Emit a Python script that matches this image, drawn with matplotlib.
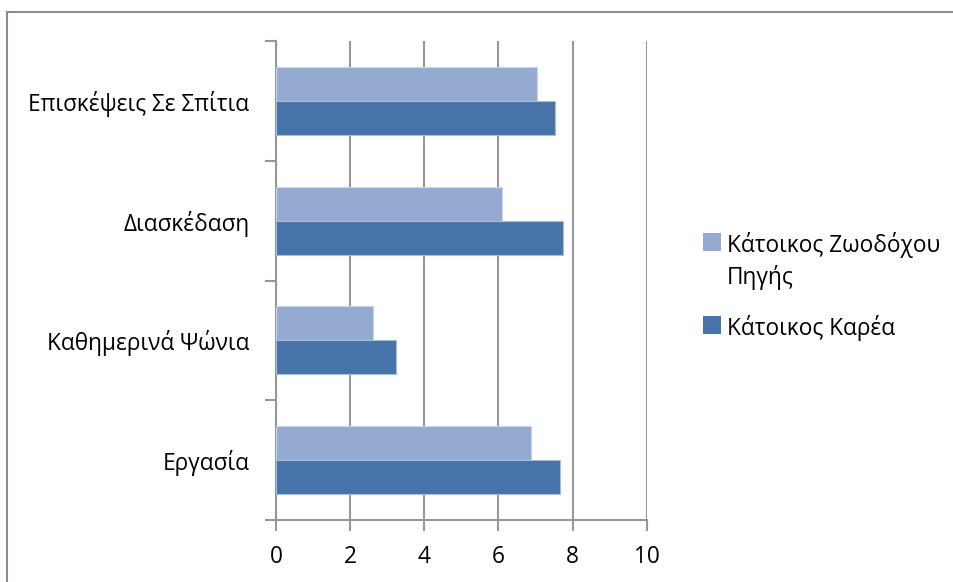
import matplotlib
matplotlib.use("Agg")
import matplotlib.pyplot as plt
from matplotlib.patches import Rectangle
import numpy as np

plt.rcParams['font.family'] = ['Open Sans', 'DejaVu Sans']

categories = ["Εργασία", "Καθημερινά Ψώνια", "Διασκέδαση", "Επισκέψεις Σε Σπίτια"]
series_names = ["Κάτοικος Ζωοδόχου\nΠηγής", "Κάτοικος Καρέα"]
zoodochou = [6.88, 2.63, 6.11, 7.03]
karea = [7.65, 3.25, 7.74, 7.53]
x_ticks = [0, 2, 4, 6, 8, 10]

light = "#95AAD1"
dark = "#4673A8"
grid_col = "#979797"
fs = 16.3

W, H = 954, 582
fig = plt.figure(figsize=(W / 100, H / 100), dpi=100)
ax = fig.add_axes([276 / W, 1 - 520 / H, (646.7 - 276) / W, (520 - 41) / H])

y = np.arange(len(categories))
bh = 0.284
bars_z = ax.barh(y + bh / 2, zoodochou, height=bh, color=light, edgecolor="#c9d4ea",
                 linewidth=0.8, label=series_names[0], zorder=3)
bars_k = ax.barh(y - bh / 2, karea, height=bh, color=dark, edgecolor="#a9bcdb",
                 linewidth=0.8, label=series_names[1], zorder=3)

ax.set_xlim(0, 10)
ax.set_ylim(-0.5, len(categories) - 0.5)
ax.set_xticks(x_ticks)
ax.set_xticklabels([str(t) for t in x_ticks], fontsize=fs)
ax.xaxis.grid(True, color=grid_col, linewidth=1.5, zorder=0)
ax.set_axisbelow(True)

# category labels at centres, tick marks on boundaries
ax.set_yticks(y)
ax.set_yticklabels(categories, fontsize=fs)
ax.tick_params(axis="y", which="major", length=0, pad=19)
ax.set_yticks(np.arange(-0.5, len(categories), 1.0), minor=True)
ax.tick_params(axis="y", which="minor", length=8, width=1.5, color=grid_col)
ax.tick_params(axis="x", length=8, width=1.5, color=grid_col, pad=10)

for s in ["top", "right"]:
    ax.spines[s].set_visible(False)
for s in ["left", "bottom"]:
    ax.spines[s].set_color(grid_col)
    ax.spines[s].set_linewidth(1.5)

# legend: square swatch aligned with the first line of each (wrapped) label
def px(xp, yp):
    return xp / W, 1 - yp / H

entries = [(series_names[0], light, 252), (series_names[1], dark, 335)]
sw = 18
for name, col, base in entries:
    x0, y0 = px(703, base - 1)
    fig.patches.append(Rectangle((x0, y0), sw / W, sw / H, transform=fig.transFigure,
                                 facecolor=col, edgecolor="none"))
    for i, line in enumerate(name.split("\n")):
        tx, ty = px(727, base + 32 * i)
        fig.text(tx, ty, line, fontsize=fs, va="baseline", ha="left")

# outer chart frame
fig.patches.append(Rectangle((7 / W, -0.1), 1.2, 1 - 12 / H + 0.1,
                             transform=fig.transFigure, fill=False,
                             edgecolor="#8c8c8c", linewidth=1.5))

fig.savefig("out.png", dpi=100)
